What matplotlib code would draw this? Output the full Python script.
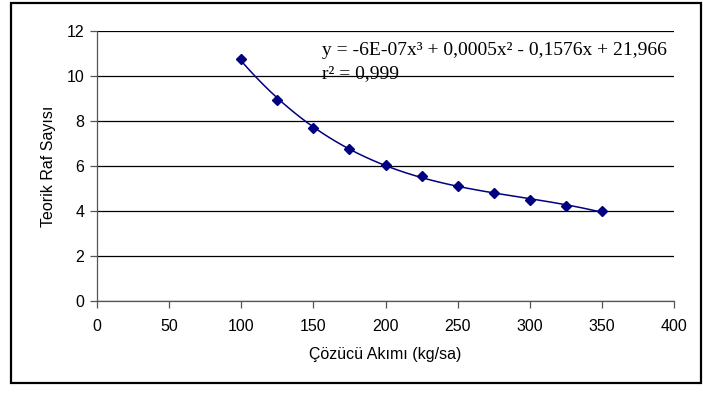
import matplotlib
matplotlib.use("Agg")
import matplotlib.pyplot as plt
import numpy as np
from matplotlib.patches import Rectangle

# ── Data ──────────────────────────────────────────────────────────────────────
solvent_flow = [100, 125, 150, 175, 200, 225, 250, 275, 300, 325, 350]
theoretical_trays = [10.74, 8.93, 7.69, 6.76, 6.04, 5.57, 5.11, 4.79, 4.49, 4.24, 3.99]

x_ticks = [0, 50, 100, 150, 200, 250, 300, 350, 400]
y_ticks = [0, 2, 4, 6, 8, 10, 12]

equation = "y = -6E-07x³ + 0,0005x² - 0,1576x + 21,966"
r_squared = "r² = 0,999"

NAVY = "#000080"
SANS = "Liberation Sans"

fig = plt.figure(figsize=(7.03, 3.94), dpi=100)
W, H = 703, 394
ax = fig.add_axes([97 / W, 1 - 301 / H, (674 - 97) / W, (301 - 31) / H])

# outer chart frame
fig.patches.append(Rectangle((11 / W, 1 - 383 / H), (701 - 11) / W, (383 - 3) / H,
                             transform=fig.transFigure, fill=False,
                             edgecolor="black", linewidth=1.6))

# polynomial trendline (3rd order) through the data
coef = np.polyfit(solvent_flow, theoretical_trays, 3)
xs = np.linspace(solvent_flow[0], solvent_flow[-1], 200)
ax.plot(xs, np.polyval(coef, xs), color=NAVY, linewidth=1.1, zorder=3)

ax.plot(solvent_flow, theoretical_trays, linestyle="none", marker="D",
        markersize=5.5, color=NAVY, zorder=4)

ax.set_xlim(0, 400)
ax.set_ylim(0, 12)
ax.set_xticks(x_ticks)
ax.set_yticks(y_ticks)
ax.yaxis.grid(True, color="black", linewidth=0.9)
ax.set_axisbelow(True)
for side in ("top", "right"):
    ax.spines[side].set_visible(False)
for side in ("left", "bottom"):
    ax.spines[side].set_color("#555555")
    ax.spines[side].set_linewidth(0.9)
ax.tick_params(direction="out", length=5, width=0.9, color="#555555",
               labelsize=11.5)
ax.tick_params(axis="x", pad=8)
ax.tick_params(axis="y", pad=4)
for lbl in ax.get_xticklabels() + ax.get_yticklabels():
    lbl.set_family(SANS)

ax.set_xlabel("Çözücü Akımı (kg/sa)", family=SANS, fontsize=11.5, labelpad=9)
ax.set_ylabel("Teorik Raf Sayısı", family=SANS, fontsize=11.5, labelpad=8)

ax.text(322 / W, 1 - 55 / H, equation, transform=fig.transFigure,
        family="Liberation Serif", fontsize=14, va="baseline", ha="left")
ax.text(322 / W, 1 - 78 / H, r_squared, transform=fig.transFigure,
        family="Liberation Serif", fontsize=14, va="baseline", ha="left")

fig.savefig("out.png", dpi=100)
